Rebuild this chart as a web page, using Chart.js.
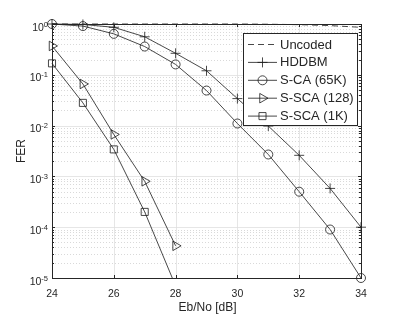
<!DOCTYPE html>
<html>
<head>
<meta charset="utf-8">
<script src="https://cdn.jsdelivr.net/npm/chart.js@4"></script>
<style>
  html, body { margin: 0; padding: 0; background: #fff; }
  canvas { display: block; }
</style>
</head>
<body>
<canvas id="ferChart" width="399" height="316"></canvas>
<script>
// Eb/No points (dB)
const ebno = [24, 25, 26, 27, 28, 29, 30, 31, 32, 33, 34];
const ebnoShort = [24, 25, 26, 27, 28];

// FER values
const uncoded = [1, 1, 1, 1, 1, 1, 1, 0.99, 0.97, 0.93, 0.86];
const hddbm = [1, 0.98, 0.86, 0.56, 0.265, 0.12, 0.034, 0.0098, 0.0026, 0.00058, 0.0001];
const sca65k = [1, 0.91, 0.64, 0.36, 0.16, 0.049, 0.011, 0.0027, 0.0005, 0.00009, 0.00001];
const ssca128 = [0.37, 0.066, 0.0067, 0.0008, 0.000043];
const ssca1k = [0.168, 0.028, 0.0034, 0.0002, 0.000007];

const seriesNames = ['Uncoded', 'HDDBM', 'S-CA (65K)', 'S-SCA (128)', 'S-SCA (1K)'];

// axis ticks
const xTicks = [24, 26, 28, 30, 32, 34];
const yExponents = [0, -1, -2, -3, -4, -5];

const axisColor = '#262626';
const lineColor = '#1a1a1a';

function pts(xs, ys) {
  return ys.map(function(v, i) { return { x: xs[i], y: v }; });
}

function makeSet(label, xs, ys, style, radius, rotation, dash, clipBottom) {
  return {
    label: label,
    data: pts(xs, ys),
    borderColor: lineColor,
    backgroundColor: 'rgba(0,0,0,0)',
    borderWidth: 0.8,
    borderDash: dash || [],
    pointStyle: style,
    pointRadius: radius,
    pointRotation: rotation || 0,
    pointBorderColor: lineColor,
    pointBorderWidth: 0.8,
    pointBackgroundColor: 'rgba(0,0,0,0)',
    tension: 0,
    clip: { left: 8, right: 8, top: 8, bottom: clipBottom }
  };
}

const gridPlugin = {
  id: 'matlabGrid',
  beforeDatasetsDraw(chart) {
    const ctx = chart.ctx;
    const a = chart.chartArea;
    const xs = chart.scales.x, ys = chart.scales.y;
    ctx.save();
    // minor horizontal grid (dotted)
    ctx.strokeStyle = '#cfcfcf';
    ctx.lineWidth = 0.8;
    ctx.setLineDash([1, 2]);
    for (let e = -5; e < 0; e++) {
      for (let m = 2; m <= 9; m++) {
        const y = Math.round(ys.getPixelForValue(m * Math.pow(10, e))) + 0.5;
        ctx.beginPath(); ctx.moveTo(a.left, y); ctx.lineTo(a.right, y); ctx.stroke();
      }
    }
    ctx.setLineDash([]);
    // major grid
    ctx.strokeStyle = '#e0e0e0';
    yExponents.forEach(function(e) {
      const y = Math.round(ys.getPixelForValue(Math.pow(10, e))) + 0.5;
      ctx.beginPath(); ctx.moveTo(a.left, y); ctx.lineTo(a.right, y); ctx.stroke();
    });
    xTicks.forEach(function(t) {
      const x = Math.round(xs.getPixelForValue(t)) + 0.5;
      ctx.beginPath(); ctx.moveTo(x, a.top); ctx.lineTo(x, a.bottom); ctx.stroke();
    });
    ctx.restore();
  },
  afterDatasetsDraw(chart) {
    const ctx = chart.ctx;
    const a = chart.chartArea;
    const xs = chart.scales.x, ys = chart.scales.y;
    ctx.save();
    ctx.strokeStyle = axisColor;
    ctx.lineWidth = 1;
    ctx.strokeRect(Math.round(a.left) + 0.5, Math.round(a.top) + 0.5,
      Math.round(a.right - a.left), Math.round(a.bottom - a.top));
    // x ticks (bottom and top, inward)
    xTicks.forEach(function(t) {
      const x = Math.round(xs.getPixelForValue(t)) + 0.5;
      ctx.beginPath();
      ctx.moveTo(x, a.bottom); ctx.lineTo(x, a.bottom - 3);
      ctx.moveTo(x, a.top); ctx.lineTo(x, a.top + 3);
      ctx.stroke();
    });
    // y ticks, major and minor, both sides
    for (let e = -5; e <= 0; e++) {
      for (let m = 1; m <= 9; m++) {
        const v = m * Math.pow(10, e);
        if (v > 1) break;
        const len = m === 1 ? 3 : 2;
        const y = Math.round(ys.getPixelForValue(v)) + 0.5;
        ctx.beginPath();
        ctx.moveTo(a.left, y); ctx.lineTo(a.left + len, y);
        ctx.moveTo(a.right, y); ctx.lineTo(a.right - len, y);
        ctx.stroke();
      }
    }
    // tick labels
    ctx.fillStyle = axisColor;
    ctx.font = '10.5px "Liberation Sans", Arial, sans-serif';
    ctx.textAlign = 'center';
    ctx.textBaseline = 'alphabetic';
    xTicks.forEach(function(t) {
      ctx.fillText(String(t), xs.getPixelForValue(t), a.bottom + 19);
    });
    yExponents.forEach(function(e) {
      const y = ys.getPixelForValue(Math.pow(10, e));
      const sup = String(e);
      ctx.font = '7.5px "Liberation Sans", Arial, sans-serif';
      const sw = ctx.measureText(sup).width;
      ctx.textAlign = 'left';
      const supX = a.left - 4 - sw;
      ctx.fillText(sup, supX, y + 2.5);
      ctx.font = '10.5px "Liberation Sans", Arial, sans-serif';
      ctx.textAlign = 'right';
      ctx.fillText('10', supX, y + 6.5);
    });
    // axis titles
    ctx.font = '12px "Liberation Sans", Arial, sans-serif';
    ctx.textAlign = 'center';
    ctx.fillText('Eb/No [dB]', (a.left + a.right) / 2 + 1, 311);
    ctx.save();
    ctx.translate(24.5, (a.top + a.bottom) / 2);
    ctx.rotate(-Math.PI / 2);
    ctx.fillText('FER', 0, 0);
    ctx.restore();
    ctx.restore();
  },
  afterDraw(chart) {
    const ctx = chart.ctx;
    const box = { x: 243.5, y: 33.5, w: 114, h: 92 };
    ctx.save();
    ctx.fillStyle = '#fff';
    ctx.fillRect(box.x, box.y, box.w, box.h);
    ctx.strokeStyle = axisColor;
    ctx.lineWidth = 1;
    ctx.strokeRect(box.x, box.y, box.w, box.h);
    ctx.font = '13px "Liberation Sans", Arial, sans-serif';
    ctx.textBaseline = 'middle';
    ctx.textAlign = 'left';
    chart.data.datasets.forEach(function(ds, i) {
      const y = 44.5 + i * 17.9;
      ctx.strokeStyle = lineColor;
      ctx.lineWidth = 0.8;
      ctx.setLineDash(ds.borderDash || []);
      ctx.beginPath(); ctx.moveTo(248, y); ctx.lineTo(277, y); ctx.stroke();
      ctx.setLineDash([]);
      if (ds.pointRadius > 0 && Chart.helpers && Chart.helpers.drawPoint) {
        ctx.fillStyle = 'rgba(0,0,0,0)';
        Chart.helpers.drawPoint(ctx, {
          pointStyle: ds.pointStyle, radius: ds.pointRadius,
          rotation: ds.pointRotation, borderWidth: 0.8
        }, 262.5, y);
      }
      ctx.fillStyle = axisColor;
      ctx.fillText(ds.label, 280, y + 0.5);
    });
    ctx.restore();
  }
};

new Chart(document.getElementById('ferChart').getContext('2d'), {
  type: 'line',
  data: {
    datasets: [
      makeSet(seriesNames[0], ebno, uncoded, false, 0, 0, [6, 4], 8),
      makeSet(seriesNames[1], ebno, hddbm, 'cross', 5, 0, null, 8),
      makeSet(seriesNames[2], ebno, sca65k, 'circle', 4.5, 0, null, 8),
      makeSet(seriesNames[3], ebnoShort, ssca128, 'triangle', 5.5, 90, null, 8),
      makeSet(seriesNames[4], ebnoShort, ssca1k, 'rect', 5, 0, null, 0)
    ]
  },
  options: {
    responsive: false,
    animation: false,
    layout: { padding: { left: 52, right: 38, top: 24, bottom: 38 } },
    plugins: { legend: { display: false }, tooltip: { enabled: false } },
    scales: {
      x: { type: 'linear', min: 24, max: 34, display: false },
      y: { type: 'logarithmic', min: 1e-5, max: 1, display: false }
    }
  },
  plugins: [gridPlugin]
});
</script>
</body>
</html>
